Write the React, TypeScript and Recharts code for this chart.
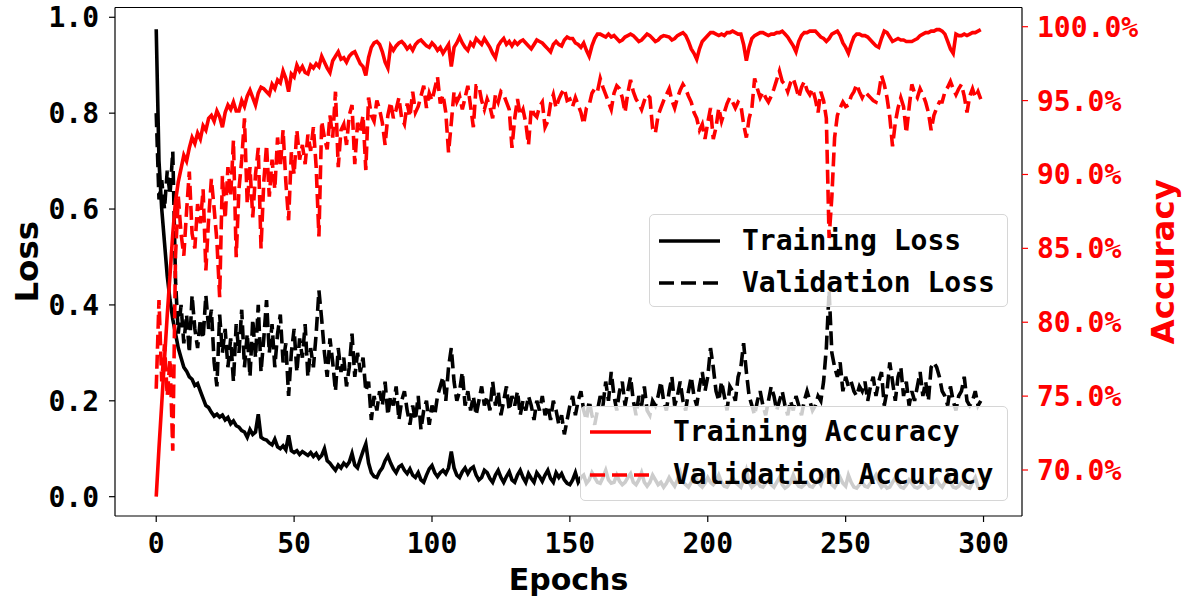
import { LineChart, Line, XAxis, YAxis, ReferenceLine } from 'recharts'

// per-epoch values (epochs 0..299)
const trainLoss = [
  0.975, 0.70, 0.60, 0.53, 0.46, 0.41, 0.37, 0.34, 0.31, 0.29,
  0.27, 0.262, 0.25, 0.245, 0.232, 0.236, 0.22, 0.205, 0.19, 0.186,
  0.176, 0.168, 0.172, 0.166, 0.17, 0.16, 0.165, 0.152, 0.158, 0.148,
  0.145, 0.138, 0.135, 0.124, 0.14, 0.13, 0.135, 0.172, 0.124, 0.12,
  0.118, 0.112, 0.108, 0.12, 0.104, 0.1, 0.106, 0.098, 0.128, 0.096,
  0.092, 0.096, 0.088, 0.094, 0.09, 0.086, 0.092, 0.084, 0.09, 0.08,
  0.086, 0.1, 0.075, 0.07, 0.062, 0.055, 0.066, 0.06, 0.07, 0.064,
  0.072, 0.09, 0.066, 0.06, 0.078, 0.095, 0.11, 0.07, 0.05, 0.042,
  0.04, 0.052, 0.06, 0.075, 0.085, 0.07, 0.058, 0.05, 0.062, 0.066,
  0.055, 0.048, 0.058, 0.045, 0.04, 0.05, 0.035, 0.03, 0.045, 0.058,
  0.065, 0.05, 0.042, 0.05, 0.055, 0.048, 0.06, 0.094, 0.06, 0.045,
  0.04, 0.052, 0.06, 0.048, 0.058, 0.062, 0.045, 0.035, 0.04, 0.055,
  0.05, 0.038, 0.03, 0.045, 0.055, 0.04, 0.03, 0.042, 0.052, 0.035,
  0.03, 0.045, 0.055, 0.04, 0.03, 0.048, 0.038, 0.03, 0.05, 0.042,
  0.032, 0.045, 0.055, 0.038, 0.03, 0.05, 0.04, 0.048, 0.035, 0.028,
  0.025, 0.035, 0.05, 0.03, 0.04, 0.045, 0.028, 0.035, 0.05, 0.04,
  0.03, 0.028, 0.04, 0.055, 0.035, 0.028, 0.03, 0.045, 0.032, 0.025,
  0.03, 0.04, 0.048, 0.03, 0.025, 0.035, 0.05, 0.03, 0.022, 0.03,
  0.045, 0.035, 0.025, 0.03, 0.02, 0.028, 0.04, 0.03, 0.022, 0.035,
  0.05, 0.03, 0.025, 0.02, 0.03, 0.045, 0.035, 0.025, 0.02, 0.028,
  0.04, 0.03, 0.025, 0.032, 0.045, 0.03, 0.022, 0.02, 0.03, 0.04,
  0.03, 0.025, 0.02, 0.035, 0.055, 0.03, 0.02, 0.025, 0.03, 0.022,
  0.02, 0.028, 0.035, 0.025, 0.02, 0.03, 0.04, 0.025, 0.018, 0.022,
  0.03, 0.045, 0.03, 0.022, 0.02, 0.025, 0.03, 0.022, 0.02, 0.028,
  0.035, 0.025, 0.04, 0.05, 0.035, 0.025, 0.02, 0.03, 0.04, 0.028,
  0.022, 0.045, 0.03, 0.02, 0.018, 0.025, 0.03, 0.022, 0.02, 0.028,
  0.035, 0.045, 0.03, 0.02, 0.025, 0.018, 0.02, 0.03, 0.04, 0.028,
  0.02, 0.018, 0.025, 0.035, 0.028, 0.02, 0.018, 0.022, 0.03, 0.025,
  0.018, 0.02, 0.028, 0.035, 0.025, 0.02, 0.03, 0.045, 0.03, 0.02,
  0.018, 0.022, 0.03, 0.025, 0.02, 0.018, 0.03, 0.04, 0.02, 0.015,
]

const valLoss = [
  0.80, 0.62, 0.66, 0.60, 0.68, 0.63, 0.72, 0.45, 0.34, 0.40,
  0.32, 0.38, 0.30, 0.42, 0.35, 0.31, 0.37, 0.33, 0.42, 0.35,
  0.39, 0.28, 0.23, 0.38, 0.30, 0.35, 0.27, 0.33, 0.24, 0.36,
  0.30, 0.39, 0.27, 0.34, 0.25, 0.37, 0.29, 0.40, 0.26, 0.33,
  0.41, 0.30, 0.36, 0.27, 0.34, 0.38, 0.28, 0.32, 0.21, 0.30,
  0.35, 0.26, 0.33, 0.29, 0.36, 0.25, 0.31, 0.27, 0.34, 0.43,
  0.37, 0.30, 0.25, 0.33, 0.28, 0.22, 0.31, 0.26, 0.29, 0.23,
  0.27, 0.34, 0.25, 0.30, 0.26, 0.29, 0.22, 0.24, 0.16, 0.21,
  0.18, 0.22, 0.19, 0.24, 0.17, 0.21, 0.19, 0.23, 0.16, 0.20,
  0.22, 0.18, 0.15, 0.19, 0.16, 0.21, 0.14, 0.18, 0.20, 0.15,
  0.19, 0.17, 0.21, 0.23, 0.25, 0.20, 0.27, 0.31, 0.24, 0.20,
  0.22, 0.26, 0.19, 0.22, 0.18, 0.21, 0.17, 0.20, 0.23, 0.19,
  0.21, 0.18, 0.24, 0.19, 0.22, 0.17, 0.20, 0.23, 0.18, 0.21,
  0.19, 0.22, 0.17, 0.20, 0.18, 0.21, 0.19, 0.16, 0.20, 0.18,
  0.21, 0.17, 0.19, 0.16, 0.20, 0.18, 0.15, 0.17, 0.13, 0.16,
  0.19, 0.21, 0.17, 0.20, 0.22, 0.18, 0.16, 0.20, 0.17, 0.15,
  0.18, 0.21, 0.19, 0.24, 0.20, 0.26, 0.21, 0.18, 0.22, 0.24,
  0.19, 0.22, 0.25, 0.20, 0.17, 0.21, 0.19, 0.23, 0.18, 0.17,
  0.20, 0.19, 0.21, 0.24, 0.20, 0.18, 0.22, 0.25, 0.19, 0.21,
  0.24, 0.20, 0.18, 0.22, 0.25, 0.21, 0.19, 0.23, 0.26, 0.22,
  0.25, 0.31, 0.27, 0.22, 0.20, 0.24, 0.21, 0.18, 0.23, 0.22,
  0.20, 0.25, 0.27, 0.32, 0.26, 0.21, 0.19, 0.17, 0.20, 0.22,
  0.19, 0.17, 0.20, 0.23, 0.21, 0.18, 0.20, 0.22, 0.19, 0.17,
  0.20, 0.18, 0.21, 0.19, 0.17, 0.20, 0.22, 0.20, 0.18, 0.19,
  0.21, 0.20, 0.24, 0.31, 0.43, 0.30, 0.27, 0.25, 0.28, 0.22,
  0.25, 0.23, 0.24, 0.22, 0.21, 0.23, 0.22, 0.24, 0.20, 0.23,
  0.25, 0.21, 0.24, 0.26, 0.19, 0.22, 0.28, 0.24, 0.20, 0.25,
  0.27, 0.21, 0.24, 0.19, 0.22, 0.20, 0.23, 0.26, 0.21, 0.24,
  0.20, 0.27, 0.28, 0.27, 0.25, 0.22, 0.21, 0.19, 0.23, 0.20,
  0.18, 0.21, 0.22, 0.25, 0.20, 0.19, 0.20, 0.22, 0.19, 0.20,
]

// accuracy in percent
const trainAcc = [
  68.2, 71.5, 74.5, 77.5, 80.5, 83.2, 86.0, 88.2, 89.5, 90.4,
  91.3, 90.9, 91.8, 92.5, 92.1, 92.8, 92.4, 93.3, 93.0, 93.8,
  94.0, 93.6, 94.3, 93.9, 93.2, 94.2, 94.7, 94.4, 94.9, 94.3,
  94.3, 95.0, 94.6, 95.3, 95.7, 95.2, 94.7, 95.5, 95.9, 95.8,
  95.6, 95.4, 96.1, 95.8, 96.4, 96.2, 97.0, 96.5, 95.6, 96.8,
  96.6, 97.4, 97.0, 97.3, 96.9, 96.8, 97.4, 97.2, 97.5, 97.3,
  98.0, 97.6, 97.2, 96.9, 97.7, 98.0, 98.3, 97.8, 97.9, 97.6,
  98.0, 98.2, 98.3, 97.9, 97.5, 97.3, 96.7, 97.9, 98.6, 98.9,
  99.0, 98.8, 98.3, 97.6, 97.2, 98.7, 98.4, 98.7, 98.9, 99.0,
  98.8, 98.5, 98.7, 98.4, 98.8, 99.0, 99.1, 98.9, 98.7, 98.6,
  98.9, 98.7, 98.4, 98.6, 98.2, 98.5, 98.8, 97.3, 98.6, 98.9,
  99.3, 98.9, 98.6, 98.4, 98.9, 98.7, 99.2, 99.0, 98.8, 99.2,
  98.9, 98.6, 98.2, 97.9, 98.7, 99.0, 99.2, 98.8, 99.0, 98.7,
  99.0, 98.8, 99.0, 99.1, 98.9, 98.7, 98.5, 98.8, 99.1, 99.0,
  98.9, 98.7, 98.5, 98.3, 98.8, 99.0, 98.8, 98.7, 99.1, 99.3,
  99.2, 99.2, 98.9, 98.8, 98.6, 98.9, 98.4, 98.0, 98.7, 99.2,
  99.5, 99.5, 99.4, 99.3, 99.5, 99.3, 99.4, 99.2, 99.0, 99.1,
  99.3, 99.4, 99.5, 99.4, 99.2, 99.0, 99.1, 99.3, 99.5, 99.4,
  99.2, 99.0, 99.1, 99.3, 99.4, 99.35, 99.3, 99.1, 99.2, 99.4,
  99.5, 99.6, 99.4, 99.0, 98.5, 98.2, 97.8, 98.5, 99.0, 99.2,
  99.4, 99.6, 99.6, 99.5, 99.4, 99.5, 99.4, 99.6, 99.6, 99.7,
  99.6, 99.5, 99.5, 98.8, 97.7, 98.6, 99.2, 99.4, 99.5, 99.6,
  99.6, 99.5, 99.4, 99.5, 99.5, 99.6, 99.6, 99.7, 99.5, 99.3,
  99.0, 98.7, 98.3, 99.0, 99.4, 99.6, 99.6, 99.7, 99.7, 99.7,
  99.5, 99.3, 99.2, 99.0, 99.2, 99.5, 99.6, 99.7, 99.4, 98.9,
  98.6, 98.2, 98.8, 99.3, 99.5, 99.5, 99.4, 99.4, 99.3, 99.1,
  98.9, 98.7, 98.6, 99.2, 99.7, 99.6, 99.3, 99.0, 99.1, 99.2,
  99.1, 99.1, 99.0, 99.0, 99.0, 99.1, 99.2, 99.4, 99.5, 99.6,
  99.6, 99.7, 99.7, 99.8, 99.8, 99.7, 99.5, 99.0, 98.5, 98.2,
  99.5, 99.4, 99.4, 99.5, 99.4, 99.5, 99.6, 99.6, 99.7, 99.8,
]

const valAcc = [
  75.5, 81.5, 76.0, 78.5, 75.0, 77.5, 71.3, 84.5, 88.5, 86.0,
  84.5, 87.5, 90.2, 86.0, 85.0, 88.0, 86.7, 89.0, 83.5, 87.0,
  89.7, 87.7, 85.5, 81.7, 89.9, 87.0, 90.5, 88.5, 92.3, 84.4,
  89.0, 91.0, 93.8, 88.0, 90.5, 87.1, 90.0, 91.8, 85.0, 89.5,
  92.0, 88.5, 91.0, 89.0, 92.5, 90.5, 93.0, 89.5, 86.9, 91.5,
  90.0, 93.0, 91.0, 92.0, 90.7, 92.7, 91.6, 93.2, 90.5, 85.8,
  93.6, 92.5, 91.7, 94.0, 92.5, 95.6, 90.5, 93.0, 93.4, 92.0,
  94.0, 94.7, 90.7, 93.5, 92.9, 94.0, 90.3, 95.2, 94.0, 93.6,
  95.0, 94.4, 93.5, 92.0, 94.0, 94.9, 93.8, 94.4, 95.2, 93.8,
  93.4, 94.8, 93.9, 95.6, 94.2, 94.6, 95.3, 96.0, 94.5, 95.5,
  95.0, 95.8, 96.6, 94.8, 95.4, 94.2, 91.5, 93.5, 95.6, 94.9,
  95.3, 94.4, 95.2, 96.0, 94.6, 93.2, 96.0, 96.0, 95.0, 94.4,
  95.1, 94.6, 93.8, 95.4, 94.9, 95.6, 95.4, 94.9, 94.4, 91.8,
  93.8, 95.1, 94.0, 94.4, 93.5, 92.0, 94.5, 94.1, 93.9, 94.6,
  94.9, 93.2, 93.6, 94.8, 95.4, 94.5, 95.1, 95.5, 95.8, 95.0,
  95.1, 94.6, 95.2, 94.7, 94.2, 93.4, 94.5, 94.7, 95.5, 95.8,
  95.6, 96.5, 95.9, 95.4, 94.9, 94.4, 95.5, 96.0, 95.8, 95.2,
  94.2, 95.5, 96.4, 95.6, 95.1, 94.8, 94.4, 95.0, 95.4, 95.2,
  93.1, 92.8, 94.0, 94.5, 95.0, 95.4, 95.8, 95.0, 94.5, 95.2,
  95.7, 96.1, 95.8, 95.3, 94.9, 94.2, 93.8, 93.0, 93.4, 92.4,
  93.5, 94.5, 92.4, 93.2, 94.5, 93.6, 94.2, 94.8, 95.2, 94.9,
  94.5, 94.9, 94.7, 93.4, 92.5, 93.8, 94.5, 96.5, 95.8, 95.2,
  95.6, 95.2, 94.9, 95.3, 95.8, 96.4, 97.0, 96.3, 96.1, 95.6,
  96.2, 96.5, 95.9, 95.2, 95.9, 96.3, 95.7, 95.4, 95.8, 95.1,
  94.2, 95.6, 95.0, 93.8, 85.7, 88.5, 92.5, 94.0, 94.5, 94.9,
  94.6, 94.7, 95.3, 95.6, 96.1, 95.6, 95.2, 95.6, 95.4, 95.2,
  95.0, 94.9, 95.5, 96.7, 96.1, 95.2, 93.9, 91.9, 93.5, 94.5,
  95.2, 94.6, 92.8, 94.5, 96.1, 95.5, 95.2, 95.8, 95.4, 94.9,
  94.2, 93.0, 94.0, 94.5, 94.9, 94.9, 95.6, 95.9, 96.3, 95.8,
  95.4, 95.8, 96.1, 95.3, 94.2, 95.3, 95.8, 95.2, 95.6, 95.1,
]

const epochTicks = [0, 50, 100, 150, 200, 250, 300]
const lossTicks = [0, 0.2, 0.4, 0.6, 0.8, 1.0]
const accTicks = [70, 75, 80, 85, 90, 95, 100]

const data = trainLoss.map((v, i) => ({
  epoch: i,
  trainLoss: v,
  valLoss: valLoss[i],
  trainAcc: trainAcc[i],
  valAcc: valAcc[i],
}))

const W = 1191
const H = 603
const X_DOMAIN: [number, number] = [-14.95, 313.95]
const LOSS_DOMAIN: [number, number] = [-0.0403, 1.0204]
const ACC_DOMAIN: [number, number] = [66.887, 101.3]

const MONO = '"DejaVu Sans Mono", monospace'
const SANS = '"DejaVu Sans", sans-serif'
const RED = '#ff0000'
const DASH = '14 6'
const LW = 3.6

const tickFont = { fontSize: 28, fontFamily: MONO, fontWeight: 'bold' as const }

type LegendItem = { label: string; color: string; dashed: boolean }

function LegendBox({ left, top, width, height, rows }: { left: number; top: number; width: number; height: number; rows: { item: LegendItem; y: number }[] }) {
  return (
    <div
      style={{
        position: 'absolute',
        left,
        top,
        width,
        height,
        boxSizing: 'border-box',
        border: '1.5px solid #d6d6d6',
        borderRadius: 5,
        background: 'rgba(255,255,255,0.8)',
      }}
    >
      {rows.map(({ item, y }) => (
        <div key={item.label} style={{ position: 'absolute', left: 0, top: y - 20, height: 40, display: 'flex', alignItems: 'center' }}>
          <svg width={92} height={40} style={{ display: 'block' }}>
            <line x1={9} x2={70} y1={20} y2={20} stroke={item.color} strokeWidth={LW} strokeDasharray={item.dashed ? '15 7' : undefined} />
          </svg>
          <span style={{ fontFamily: MONO, fontWeight: 'bold', fontSize: 28, color: '#000', whiteSpace: 'pre', lineHeight: '40px' }}>{item.label}</span>
        </div>
      ))}
    </div>
  )
}

const lossLabel = (props: any) => {
  const vb = props.viewBox
  const x = vb.x + 27
  const y = vb.y + vb.height / 2
  return (
    <text x={x} y={y} transform={`rotate(-90, ${x}, ${y})`} textAnchor="middle" dominantBaseline="central" fontFamily={SANS} fontWeight="bold" fontSize={32.5} fill="#000">
      Loss
    </text>
  )
}

const accLabel = (props: any) => {
  const vb = props.viewBox
  const x = vb.x + 141
  const y = vb.y + vb.height / 2
  return (
    <text x={x} y={y} transform={`rotate(-90, ${x}, ${y})`} textAnchor="middle" dominantBaseline="central" fontFamily={SANS} fontWeight="bold" fontSize={32.5} fill={RED}>
      Accuracy
    </text>
  )
}

const epochLabel = (props: any) => {
  const vb = props.viewBox
  return (
    <text x={vb.x + vb.width / 2} y={vb.y + 74} textAnchor="middle" fontFamily={SANS} fontWeight="bold" fontSize={30} fill="#000">
      Epochs
    </text>
  )
}

export default function App() {
  return (
    <div style={{ position: 'absolute', left: 0, top: 0, width: W, height: H, background: '#fff' }}>
      {/* loss axes and lines */}
      <div style={{ position: 'absolute', left: 0, top: 0 }}>
        <LineChart width={W} height={H} data={data} margin={{ top: 7.5, right: 169, bottom: 0, left: 0 }}>
          <XAxis
            type="number"
            dataKey="epoch"
            domain={X_DOMAIN}
            ticks={epochTicks}
            height={87}
            tick={{ ...tickFont, fill: '#000' }}
            tickLine={{ stroke: '#000', strokeWidth: 1.2 }}
            axisLine={{ stroke: '#000', strokeWidth: 1.2 }}
            tickSize={6}
            tickMargin={11}
            allowDataOverflow
            label={epochLabel}
          />
          <YAxis
            yAxisId="loss"
            type="number"
            domain={LOSS_DOMAIN}
            ticks={lossTicks}
            width={115}
            tick={{ ...tickFont, fill: '#000' }}
            tickFormatter={(v: number) => v.toFixed(1)}
            tickLine={{ stroke: '#000', strokeWidth: 1.2 }}
            axisLine={{ stroke: '#000', strokeWidth: 1.2 }}
            tickSize={6}
            tickMargin={10}
            allowDataOverflow
            label={lossLabel}
          />
          <ReferenceLine yAxisId="loss" y={LOSS_DOMAIN[1]} stroke="#000" strokeWidth={1.2} />
          <Line yAxisId="loss" type="linear" dataKey="trainLoss" stroke="#000" strokeWidth={LW} dot={false} isAnimationActive={false} name="Training Loss" />
          <Line yAxisId="loss" type="linear" dataKey="valLoss" stroke="#000" strokeWidth={LW} strokeDasharray={DASH} dot={false} isAnimationActive={false} name="Validation Loss" />
        </LineChart>
      </div>

      <LegendBox
        left={649}
        top={214}
        width={359}
        height={93}
        rows={[
          { item: { label: 'Training Loss', color: '#000', dashed: false }, y: 25.5 },
          { item: { label: 'Validation Loss', color: '#000', dashed: true }, y: 68 },
        ]}
      />

      {/* accuracy axis and lines, drawn over the first legend */}
      <div style={{ position: 'absolute', left: 0, top: 0 }}>
        <LineChart width={W} height={H} data={data} margin={{ top: 7.5, right: 0, bottom: 87, left: 115 }}>
          <XAxis type="number" dataKey="epoch" domain={X_DOMAIN} ticks={epochTicks} hide allowDataOverflow />
          <YAxis
            yAxisId="acc"
            orientation="right"
            type="number"
            domain={ACC_DOMAIN}
            ticks={accTicks}
            width={169}
            tick={{ ...tickFont, fill: RED }}
            tickFormatter={(v: number) => `${v.toFixed(1)}%`}
            tickLine={{ stroke: RED, strokeWidth: 1.2 }}
            axisLine={{ stroke: '#000', strokeWidth: 1.2 }}
            tickSize={6}
            tickMargin={9}
            allowDataOverflow
            label={accLabel}
          />
          <Line yAxisId="acc" type="linear" dataKey="trainAcc" stroke={RED} strokeWidth={LW} dot={false} isAnimationActive={false} name="Training Accuracy" />
          <Line yAxisId="acc" type="linear" dataKey="valAcc" stroke={RED} strokeWidth={LW} strokeDasharray={DASH} dot={false} isAnimationActive={false} name="Validation Accuracy" />
        </LineChart>
      </div>

      <LegendBox
        left={580}
        top={406}
        width={428}
        height={95}
        rows={[
          { item: { label: 'Training Accuracy', color: RED, dashed: false }, y: 25 },
          { item: { label: 'Validation Accuracy', color: RED, dashed: true }, y: 67.5 },
        ]}
      />
    </div>
  )
}
